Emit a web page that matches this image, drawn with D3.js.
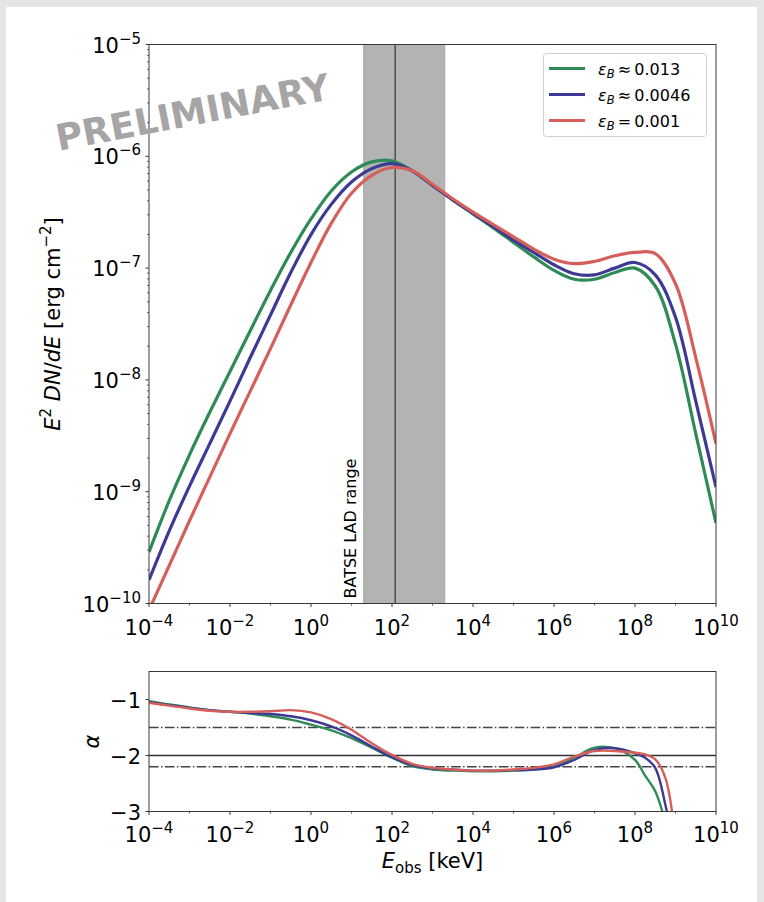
<!DOCTYPE html>
<html>
<head>
<meta charset="utf-8">
<script src="https://cdn.jsdelivr.net/npm/d3@7"></script>
<style>
  body { margin: 0; background: #e5e5e5; }
  svg { display: block; font-family: "DejaVu Sans", sans-serif; }
</style>
</head>
<body>
<svg id="fig" width="764" height="902"></svg>
<script>
// ---- spectrum (upper panel): log10 E [keV] and log10 E^2 dN/dE [erg cm^-2]
const specLogE = [-4,-3.5,-3,-2.5,-2,-1.5,-1,-0.5,0,0.5,1,1.5,2,2.5,3,3.5,4,4.5,5,5.5,6,6.5,7,7.5,8,8.5,9,9.5,10];
const logFluxEps013 = [-9.54,-9.08,-8.67,-8.29,-7.925,-7.56,-7.20,-6.86,-6.56,-6.31,-6.14,-6.05,-6.04,-6.13,-6.26,-6.39,-6.515,-6.64,-6.77,-6.90,-7.02,-7.10,-7.10,-7.04,-7.00,-7.16,-7.68,-8.48,-9.28];
const logFluxEps0046 = [-9.79,-9.35,-8.95,-8.57,-8.19,-7.80,-7.42,-7.04,-6.70,-6.43,-6.23,-6.11,-6.065,-6.13,-6.26,-6.39,-6.51,-6.63,-6.75,-6.86,-6.97,-7.05,-7.06,-7.00,-6.95,-7.06,-7.44,-8.19,-8.96];
const logFluxEps001 = [-10.06,-9.66,-9.26,-8.87,-8.48,-8.10,-7.72,-7.33,-6.95,-6.60,-6.33,-6.17,-6.10,-6.13,-6.25,-6.38,-6.50,-6.61,-6.72,-6.83,-6.92,-6.96,-6.94,-6.89,-6.86,-6.87,-7.14,-7.80,-8.57];

// ---- local photon index (lower panel)
const alphaLogE = [-4,-3.5,-3,-2.5,-2,-1.5,-1,-0.5,0,0.5,1,1.5,2,2.5,3,3.5,4,4.5,5,5.5,6,6.5,7,7.5,8,8.25,8.5,8.75,9];
const alphaEps013 = [-1.03,-1.09,-1.14,-1.19,-1.22,-1.25,-1.30,-1.36,-1.45,-1.55,-1.69,-1.86,-2.04,-2.19,-2.25,-2.27,-2.28,-2.28,-2.27,-2.25,-2.20,-2.04,-1.86,-1.87,-2.08,-2.36,-2.64,-3.20,-4.1];
const alphaEps0046 = [-1.05,-1.10,-1.15,-1.19,-1.22,-1.24,-1.26,-1.30,-1.37,-1.48,-1.64,-1.84,-2.03,-2.17,-2.23,-2.25,-2.27,-2.27,-2.26,-2.25,-2.21,-2.08,-1.90,-1.87,-1.96,-2.04,-2.22,-2.88,-3.85];
const alphaEps001 = [-1.06,-1.11,-1.16,-1.20,-1.22,-1.22,-1.21,-1.19,-1.23,-1.35,-1.54,-1.78,-1.99,-2.15,-2.22,-2.25,-2.27,-2.27,-2.25,-2.22,-2.16,-2.02,-1.92,-1.92,-1.95,-1.98,-2.07,-2.40,-3.50];

// ---- series meta
const seriesSymbols = ["≈", "≈", "="];
const seriesValues = ["0.013", "0.0046", "0.001"];
const seriesColors = ["#2e8b57", "#3d3a96", "#d65f5b"];

// ---- reference marks
const batseRange = [20, 2000];     // keV
const batseLine = 120;             // keV
const alphaRefSolid = [-2];
const alphaRefDashed = [-1.5, -2.2];

// ---- axis ticks
const xMajorExp = [-4,-2,0,2,4,6,8,10];
const xMinorExp = [-3,-1,1,3,5,7,9];
const yMajorExp = [-10,-9,-8,-7,-6,-5];
const alphaTicks = [-3,-2,-1];

const svg = d3.select("#fig");
svg.append("rect").attr("x", 6).attr("y", 7).attr("width", 751).attr("height", 895).attr("fill", "#fff");

const left = 149, right = 716;
const top1 = 44.5, bot1 = 603.5;
const top2 = 671.5, bot2 = 811.5;

const x = d3.scaleLog().domain([1e-4, 1e10]).range([left, right]);
const y = d3.scaleLog().domain([1e-10, 1e-5]).range([bot1, top1]);
const ya = d3.scaleLinear().domain([-3, -0.5]).range([bot2, top2]);

const defs = svg.append("defs");
defs.append("clipPath").attr("id", "clip1").append("rect")
  .attr("x", left).attr("y", top1).attr("width", right - left).attr("height", bot1 - top1);
defs.append("clipPath").attr("id", "clip2").append("rect")
  .attr("x", left).attr("y", top2).attr("width", right - left).attr("height", bot2 - top2);

const axisColor = "#3a3a3a";
const FS = 21, SUP = 15;

// "10" with a raised exponent
function powLabel(sel, exp) {
  sel.append("tspan").text("10");
  sel.append("tspan").attr("font-size", SUP).attr("dy", -9).text(String(exp).replace("-", "\u2212"));
}

// ================= upper panel =================
const g1 = svg.append("g");

// BATSE band
g1.append("rect")
  .attr("x", x(batseRange[0])).attr("y", top1)
  .attr("width", x(batseRange[1]) - x(batseRange[0])).attr("height", bot1 - top1)
  .attr("fill", "#b3b3b3").attr("stroke", "#a5a5a5").attr("stroke-width", 1);
g1.append("line")
  .attr("x1", x(batseLine)).attr("x2", x(batseLine)).attr("y1", top1).attr("y2", bot1)
  .attr("stroke", "#555").attr("stroke-width", 1.6);

g1.append("text")
  .attr("transform", `translate(${x(batseRange[0]) - 8},${bot1 - 5}) rotate(-90)`)
  .attr("font-size", 16).attr("fill", "#000")
  .text("BATSE LAD range");

// curves
const fluxSeries = [logFluxEps013, logFluxEps0046, logFluxEps001];
const line1 = d3.line()
  .x(d => x(Math.pow(10, d[0])))
  .y(d => y(Math.pow(10, d[1])))
  .curve(d3.curveCatmullRom.alpha(0.5));
const cg1 = g1.append("g").attr("clip-path", "url(#clip1)");
fluxSeries.forEach((s, i) => {
  cg1.append("path")
    .datum(specLogE.map((e, k) => [e, s[k]]))
    .attr("d", line1)
    .attr("fill", "none")
    .attr("stroke", seriesColors[i])
    .attr("stroke-width", 3.2)
    .attr("stroke-linejoin", "round");
});

// frame
g1.append("rect").attr("x", left).attr("y", top1).attr("width", right - left).attr("height", bot1 - top1)
  .attr("fill", "none").attr("stroke", axisColor).attr("stroke-width", 1);

// shared log x ticks
function xTicks(g, yb, labels) {
  xMajorExp.forEach(e => {
    const px = x(Math.pow(10, e));
    g.append("line").attr("x1", px).attr("x2", px).attr("y1", yb).attr("y2", yb + 3.5)
      .attr("stroke", axisColor).attr("stroke-width", 1);
    const t = g.append("text").attr("x", px).attr("y", labels)
      .attr("text-anchor", "middle").attr("font-size", FS).attr("fill", "#000");
    powLabel(t, e);
  });
  xMinorExp.forEach(e => {
    const px = x(Math.pow(10, e));
    g.append("line").attr("x1", px).attr("x2", px).attr("y1", yb).attr("y2", yb + 2)
      .attr("stroke", axisColor).attr("stroke-width", 0.8);
  });
}
xTicks(g1, bot1, 635);

// y ticks (upper)
yMajorExp.forEach(e => {
  const py = y(Math.pow(10, e));
  g1.append("line").attr("x1", left - 3.5).attr("x2", left).attr("y1", py).attr("y2", py)
    .attr("stroke", axisColor).attr("stroke-width", 1);
  const t = g1.append("text").attr("x", left - 8).attr("y", py + 8)
    .attr("text-anchor", "end").attr("font-size", FS).attr("fill", "#000");
  powLabel(t, e);
  if (e < -5) {
    [2,3,4,5,6,7,8,9].forEach(m => {
      const pm = y(m * Math.pow(10, e));
      g1.append("line").attr("x1", left - 2).attr("x2", left).attr("y1", pm).attr("y2", pm)
        .attr("stroke", axisColor).attr("stroke-width", 0.8);
    });
  }
});

// y label (upper)
const yl = g1.append("text")
  .attr("transform", `translate(60,${(top1 + bot1) / 2}) rotate(-90)`)
  .attr("text-anchor", "middle").attr("font-size", FS).attr("fill", "#000");
yl.append("tspan").attr("font-style", "italic").text("E");
yl.append("tspan").attr("font-size", SUP).attr("dy", -9).text("2");
yl.append("tspan").attr("dy", 9).text(" ");
yl.append("tspan").attr("font-style", "italic").text("DN");
yl.append("tspan").text("/");
yl.append("tspan").attr("font-style", "italic").text("dE");
yl.append("tspan").text(" [erg cm");
yl.append("tspan").attr("font-size", SUP).attr("dy", -9).text("\u22122");
yl.append("tspan").attr("dy", 9).text("]");

// legend
const lg = g1.append("g");
lg.append("rect").attr("x", 543.5).attr("y", 53.5).attr("width", 163).attr("height", 83).attr("rx", 3)
  .attr("fill", "#fff").attr("fill-opacity", 0.85).attr("stroke", "#d0d0d0").attr("stroke-width", 1);
seriesValues.forEach((v, i) => {
  const ly = 68.5 + i * 26;
  lg.append("line").attr("x1", 549).attr("x2", 585).attr("y1", ly).attr("y2", ly)
    .attr("stroke", seriesColors[i]).attr("stroke-width", 3);
  const t = lg.append("text").attr("x", 598).attr("y", ly + 6).attr("font-size", 16).attr("fill", "#000");
  t.append("tspan").attr("font-style", "italic").text("\u03b5");
  t.append("tspan").attr("font-style", "italic").attr("font-size", 11.5).attr("dy", 3).text("B");
  t.append("tspan").attr("dy", -3).text("\u2009" + seriesSymbols[i] + "\u2009" + v);
});

// watermark
svg.append("text")
  .attr("transform", "translate(195,125) rotate(-10.8)")
  .attr("text-anchor", "middle")
  .attr("font-size", 36.5).attr("font-weight", "bold").attr("fill", "#a6a4a4")
  .text("PRELIMINARY");

// ================= lower panel =================
const g2 = svg.append("g");

alphaRefDashed.forEach(v => {
  g2.append("line").attr("x1", left).attr("x2", right).attr("y1", ya(v)).attr("y2", ya(v))
    .attr("stroke", "#444").attr("stroke-width", 1.5).attr("stroke-dasharray", "9.6,2.4,1.5,2.4");
});
alphaRefSolid.forEach(v => {
  g2.append("line").attr("x1", left).attr("x2", right).attr("y1", ya(v)).attr("y2", ya(v))
    .attr("stroke", "#333").attr("stroke-width", 1.5);
});

const alphaSeries = [alphaEps013, alphaEps0046, alphaEps001];
const line2 = d3.line()
  .x(d => x(Math.pow(10, d[0])))
  .y(d => ya(d[1]))
  .curve(d3.curveCatmullRom.alpha(0.5));
const cg2 = g2.append("g").attr("clip-path", "url(#clip2)");
alphaSeries.forEach((s, i) => {
  cg2.append("path")
    .datum(alphaLogE.map((e, k) => [e, s[k]]))
    .attr("d", line2)
    .attr("fill", "none")
    .attr("stroke", seriesColors[i])
    .attr("stroke-width", 2.4)
    .attr("stroke-linejoin", "round");
});

g2.append("rect").attr("x", left).attr("y", top2).attr("width", right - left).attr("height", bot2 - top2)
  .attr("fill", "none").attr("stroke", axisColor).attr("stroke-width", 1);

xTicks(g2, bot2, 842);

alphaTicks.forEach(v => {
  const py = ya(v);
  g2.append("line").attr("x1", left - 3.5).attr("x2", left).attr("y1", py).attr("y2", py)
    .attr("stroke", axisColor).attr("stroke-width", 1);
  g2.append("text").attr("x", left - 8).attr("y", py + 8)
    .attr("text-anchor", "end").attr("font-size", FS).attr("fill", "#000")
    .text(String(v).replace("-", "\u2212"));
});

g2.append("text")
  .attr("transform", `translate(99,${(top2 + bot2) / 2}) rotate(-90)`)
  .attr("text-anchor", "middle").attr("font-size", FS).attr("font-style", "italic").attr("fill", "#000")
  .text("\u03b1");

const xl = g2.append("text").attr("x", (left + right) / 2).attr("y", 868)
  .attr("text-anchor", "middle").attr("font-size", FS).attr("fill", "#000");
xl.append("tspan").attr("font-style", "italic").text("E");
xl.append("tspan").attr("font-size", SUP).attr("dy", 5).text("obs");
xl.append("tspan").attr("dy", -5).text(" [keV]");
</script>
</body>
</html>
